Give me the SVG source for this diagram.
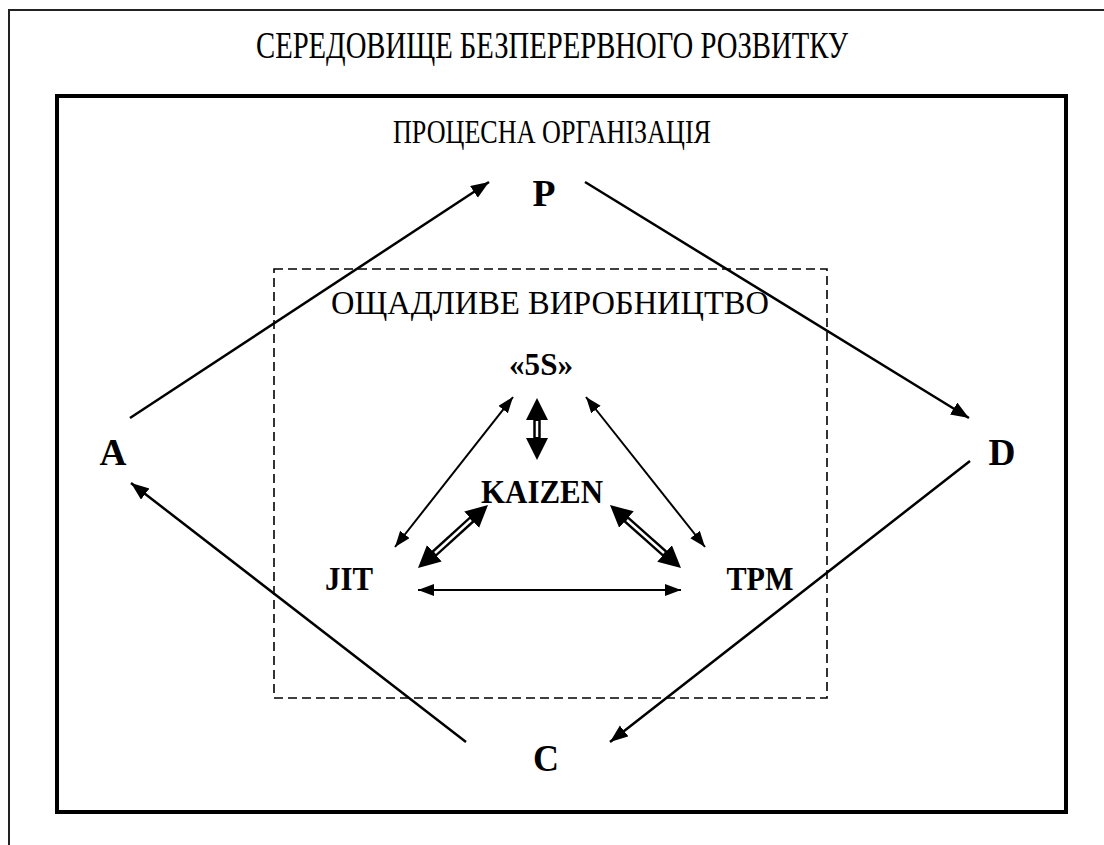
<svg xmlns="http://www.w3.org/2000/svg" width="1104" height="845" viewBox="0 0 1104 845">
<style>
text{fill:#000;text-anchor:middle}
.reg{font-weight:normal}
.b{font-weight:bold}
.frame{fill:none;stroke:#222;stroke-width:2}
.inner{fill:none;stroke:#000;stroke-width:4}
.dash{fill:none;stroke:#000;stroke-width:1.6;stroke-dasharray:9 5}
.big{stroke:#000;stroke-width:2.5;fill:none;marker-end:url(#hb)}
.thin{stroke:#000;stroke-width:2;fill:none;marker-start:url(#ht);marker-end:url(#ht)}
.dblk{stroke:#000;stroke-width:7.5;fill:none}
.dblw{stroke:#fff;stroke-width:2.5;fill:none}
.dhead{stroke:none;fill:none;marker-start:url(#hd);marker-end:url(#hd)}
</style>
<defs>
<marker id="hb" markerUnits="userSpaceOnUse" markerWidth="20" markerHeight="16" refX="18" refY="7" orient="auto-start-reverse"><path d="M0,0 L18,7 L0,14 z" fill="#000"/></marker>
<marker id="ht" markerUnits="userSpaceOnUse" markerWidth="18" markerHeight="14" refX="16" refY="6" orient="auto-start-reverse"><path d="M0,0 L16,6 L0,12 z" fill="#000"/></marker>
<marker id="hd" markerUnits="userSpaceOnUse" markerWidth="24" markerHeight="24" refX="22" refY="11" orient="auto-start-reverse"><path d="M0,0 L22,11 L0,22 z" fill="#000"/></marker>
</defs>
<rect width="1104" height="845" fill="#fff"/>
<g font-family="'Liberation Serif', 'Times New Roman', 'DejaVu Serif', serif">
<g id="environment">
<path class="frame" d="M9,845 V10 H1104"/>
<text class="reg" x="552" y="58" font-size="37" textLength="592" lengthAdjust="spacingAndGlyphs">СЕРЕДОВИЩЕ БЕЗПЕРЕРВНОГО РОЗВИТКУ</text>
</g>
<g id="process-org">
<rect class="inner" x="57" y="96" width="1009" height="716"/>
<text class="reg" x="552" y="143" font-size="33" textLength="318" lengthAdjust="spacingAndGlyphs">ПРОЦЕСНА ОРГАНІЗАЦІЯ</text>
</g>
<g id="lean">
<rect class="dash" x="274" y="269" width="553" height="429"/>
<text class="reg" x="550" y="314" font-size="34" textLength="438" lengthAdjust="spacingAndGlyphs">ОЩАДЛИВЕ ВИРОБНИЦТВО</text>
</g>
<g id="node-P"><text class="b" x="544" y="206" font-size="37" textLength="23" lengthAdjust="spacingAndGlyphs">P</text></g>
<g id="node-D"><text class="b" x="1002" y="465" font-size="37" textLength="27" lengthAdjust="spacingAndGlyphs">D</text></g>
<g id="node-C"><text class="b" x="546" y="771" font-size="37" textLength="26" lengthAdjust="spacingAndGlyphs">C</text></g>
<g id="node-A"><text class="b" x="113" y="465" font-size="37" textLength="27" lengthAdjust="spacingAndGlyphs">A</text></g>
<g id="node-5S"><text class="b" x="541" y="375" font-size="32" textLength="64" lengthAdjust="spacingAndGlyphs">«5S»</text></g>
<g id="node-KAIZEN"><text class="b" x="542" y="503" font-size="34" textLength="122" lengthAdjust="spacingAndGlyphs">KAIZEN</text></g>
<g id="node-JIT"><text class="b" x="349" y="590" font-size="34" textLength="48" lengthAdjust="spacingAndGlyphs">JIT</text></g>
<g id="node-TPM"><text class="b" x="760" y="590" font-size="34" textLength="67" lengthAdjust="spacingAndGlyphs">TPM</text></g>
</g>
<g id="connectors">
<line class="big" x1="130" y1="418" x2="489" y2="182"/>
<line class="big" x1="585" y1="182" x2="969" y2="418"/>
<line class="big" x1="970" y1="461" x2="610" y2="742"/>
<line class="big" x1="466" y1="742" x2="131" y2="483"/>
<line class="thin" x1="513" y1="397" x2="395" y2="547"/>
<line class="thin" x1="586" y1="397" x2="705" y2="547"/>
<line class="thin" x1="418" y1="590" x2="681" y2="590"/>
<line class="dblk" x1="537" y1="410" x2="537" y2="448"/>
<line class="dblw" x1="537" y1="421" x2="537" y2="437"/>
<line class="dhead" x1="537" y1="398" x2="537" y2="460"/>
<line class="dblk" x1="479" y1="513" x2="427" y2="560"/>
<line class="dblw" x1="471" y1="520" x2="435" y2="553"/>
<line class="dhead" x1="488" y1="505" x2="418" y2="568"/>
<line class="dblk" x1="619" y1="513" x2="672" y2="560"/>
<line class="dblw" x1="627" y1="520" x2="664" y2="553"/>
<line class="dhead" x1="610" y1="505" x2="681" y2="568"/>
</g>
</svg>
